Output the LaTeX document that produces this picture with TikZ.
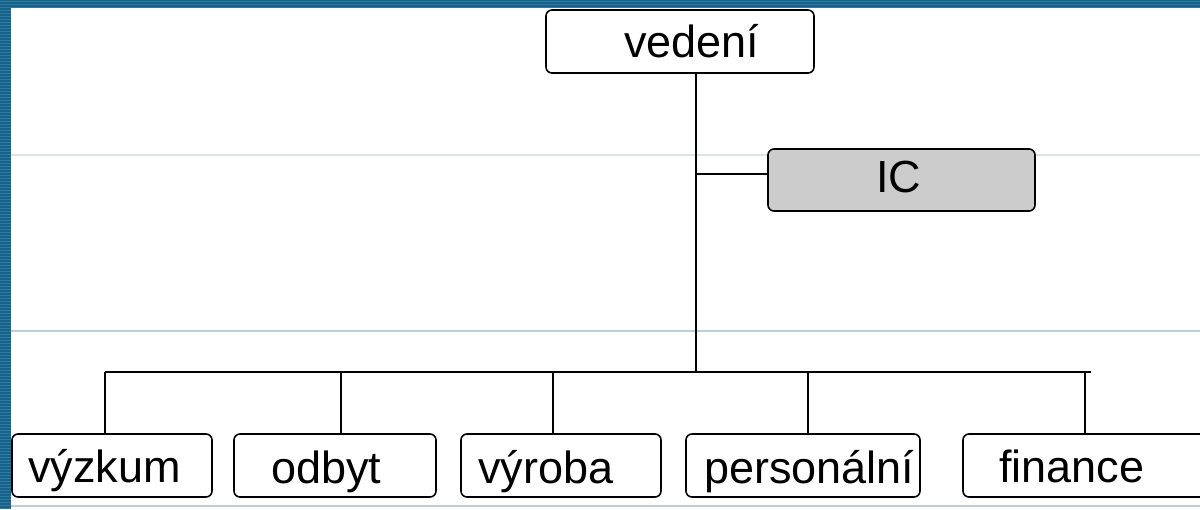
\documentclass[tikz,border=0pt]{standalone}
\usepackage{fontspec}
\setmainfont{Liberation Sans}
\definecolor{frameblue}{HTML}{18628A}
\definecolor{framelight}{HTML}{2C7DA3}
\definecolor{faintA}{HTML}{DCE3E5}
\definecolor{faintB}{HTML}{B9CFD7}
\definecolor{icgray}{HTML}{CCCCCC}
\tikzset{
  orgbox/.style={draw=black, line width=1.6pt, rounded corners=6pt, fill=white, inner sep=0pt},
  orgtext/.style={anchor=base west, inner sep=0pt, font=\fontsize{45}{50}\selectfont},
  link/.style={draw=black, line width=1.6pt},
  faint/.style={line width=1.5pt}
}
\begin{document}
\begin{tikzpicture}[x=1pt,y=-1pt]
\useasboundingbox (0,0) rectangle (1200,509);
\clip (0,0) rectangle (1200,509);
\fill[white] (0,0) rectangle (1200,509);
% faint guide lines
\draw[faint, faintA] (11,155) -- (1200,155);
\draw[faint, faintB] (11,331) -- (1200,331);
\draw[faint, faintB] (11,506) -- (1200,506);
% blue frame
\fill[frameblue] (0,0) rectangle (1200,8);
\fill[frameblue] (0,0) rectangle (11,509);
\foreach \yy in {1.5,4.5,7.5} {\draw[framelight, line width=0.8pt] (0,\yy) -- (1200,\yy);}
\foreach \yy in {10,13,...,508} {\draw[framelight, line width=0.8pt] (0,\yy) -- (11,\yy);}
% boxes
\node[orgbox, minimum width=268pt, minimum height=63pt] (vedeni) at (680,41.5) {};
\node[orgbox, fill=icgray, minimum width=267pt, minimum height=62pt] (ic) at (901.5,180) {};
\node[orgbox, minimum width=200pt, minimum height=63pt] (vyzkum) at (112,465.5) {};
\node[orgbox, minimum width=202pt, minimum height=63pt] (odbyt) at (335,465.5) {};
\node[orgbox, minimum width=200pt, minimum height=63pt] (vyroba) at (561,465.5) {};
\node[orgbox, minimum width=234pt, minimum height=63pt] (personalni) at (803,465.5) {};
\node[orgbox, minimum width=252pt, minimum height=63pt] (finance) at (1089,465.5) {};
% texts
\node[orgtext] (tvedeni) at (624,57) {vedení};
\node[orgtext] (tic) at (876,192) {IC};
\node[orgtext] (tvyzkum) at (28,482) {výzkum};
\node[orgtext] (todbyt) at (271,483) {odbyt};
\node[orgtext] (tvyroba) at (478,483) {výroba};
\node[orgtext] (tpersonalni) at (704,483) {personální};
\node[orgtext] (tfinance) at (999,482) {finance};
% connectors
\coordinate (spine) at (696,372);
\coordinate (busL) at (105,372);
\coordinate (busR) at (1091,372);
\coordinate (b1) at (105,372);
\coordinate (b2) at (341,372);
\coordinate (b3) at (553,372);
\coordinate (b4) at (808,372);
\coordinate (b5) at (1085,372);
\draw[link] (spine |- vedeni.south) -- (spine);
\draw[link] ([yshift=6pt]ic.west) -- ([yshift=6pt]ic.west -| spine);
\draw[link] (busL) -- (busR);
\draw[link] (b1) -- (b1 |- vyzkum.north);
\draw[link] (b2) -- (b2 |- odbyt.north);
\draw[link] (b3) -- (b3 |- vyroba.north);
\draw[link] (b4) -- (b4 |- personalni.north);
\draw[link] (b5) -- (b5 |- finance.north);
\end{tikzpicture}
\end{document}
